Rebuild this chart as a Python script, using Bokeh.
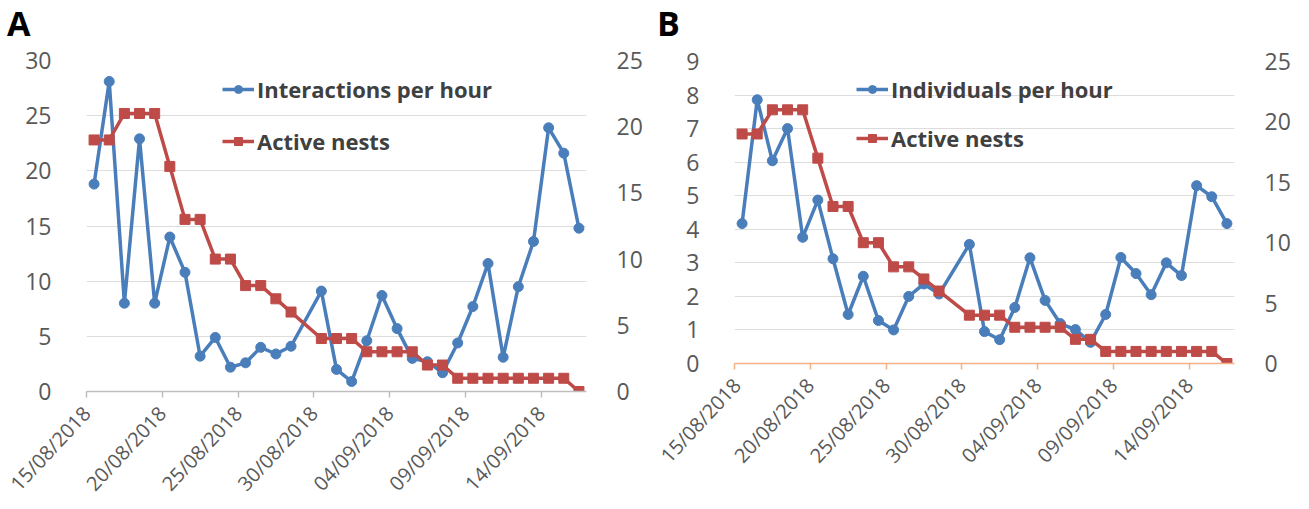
import datetime as dt
from bokeh.plotting import figure
from bokeh.models import (Range1d, LinearAxis, FixedTicker, DatetimeTickFormatter,
                          Legend, LegendItem, Div)
from bokeh.layouts import row, column
from bokeh.embed import file_html
from bokeh.resources import INLINE

dates = ["15/08/2018", "16/08/2018", "17/08/2018", "18/08/2018", "19/08/2018",
         "20/08/2018", "21/08/2018", "22/08/2018", "23/08/2018", "24/08/2018",
         "25/08/2018", "26/08/2018", "27/08/2018", "28/08/2018",
         "30/08/2018", "31/08/2018", "01/09/2018", "02/09/2018", "03/09/2018",
         "04/09/2018", "05/09/2018", "06/09/2018", "07/09/2018", "08/09/2018",
         "09/09/2018", "10/09/2018", "11/09/2018", "12/09/2018", "13/09/2018",
         "14/09/2018", "15/09/2018", "16/09/2018"]
interactions = [18.8, 28.1, 8.0, 22.9, 8.0, 14.0, 10.8, 3.2, 4.9, 2.2, 2.6, 4.0, 3.4, 4.1,
                9.1, 2.0, 0.9, 4.6, 8.7, 5.7, 3.0, 2.7, 1.7, 4.4, 7.7, 11.6, 3.1, 9.5,
                13.6, 23.9, 21.6, 14.8]
individuals = [4.17, 7.86, 6.04, 7.0, 3.76, 4.87, 3.12, 1.46, 2.6, 1.28, 1.0, 2.0, 2.37, 2.07,
               3.55, 0.95, 0.71, 1.67, 3.15, 1.88, 1.19, 1.01, 0.63, 1.46, 3.16, 2.68, 2.05,
               3.0, 2.62, 5.3, 4.97, 4.17]
active_nests = [19, 19, 21, 21, 21, 17, 13, 13, 10, 10, 8, 8, 7, 6,
                4, 4, 4, 3, 3, 3, 3, 2, 2, 1, 1, 1, 1, 1, 1, 1, 1, 0]
tick_dates = ["15/08/2018", "20/08/2018", "25/08/2018", "30/08/2018",
              "04/09/2018", "09/09/2018", "14/09/2018"]
range_start = "15/08/2018"
range_end = "17/09/2018"

BLUE = "#4A7EBB"
RED = "#BE4B48"
FONT = "Open Sans"
GRAY_TXT = "#595959"
HEAD_H = 36


def parse(d):
    return dt.datetime.strptime(d, "%d/%m/%Y")


def ms(d):
    return (d - dt.datetime(1970, 1, 1)).total_seconds() * 1000.0


xs = [parse(d) + dt.timedelta(hours=12) for d in dates]
ticks_ms = [ms(parse(d)) for d in tick_dates]
fmt = "%d/%m/%Y"


def make_head(letter, width, pad_left):
    html = ('<div style="font-family:\'Open Sans\';font-size:34px;font-weight:bold;'
            'line-height:46px;padding-left:%dpx;color:#000000;margin:0;">%s</div>'
            % (pad_left, letter))
    return Div(text=html, width=width, height=HEAD_H, margin=0)


def make_panel(series, series_label, ymax, yticks, width, height, bl, br, bt, frame_h,
               axis_color, leg_loc, leg_spacing):
    bb = height - bt - frame_h
    p = figure(width=width, height=height, x_axis_type="datetime", title=None,
               output_backend="svg", toolbar_location=None,
               x_range=Range1d(parse(range_start), parse(range_end)),
               y_range=Range1d(0, ymax),
               min_border_left=bl, min_border_right=br, min_border_top=bt,
               min_border_bottom=bb)
    p.outline_line_color = None
    p.background_fill_color = "white"
    p.extra_y_ranges = {"nests": Range1d(0, 25)}

    # x axis
    xa = p.xaxis[0]
    xa.ticker = FixedTicker(ticks=ticks_ms)
    xa.formatter = DatetimeTickFormatter(days=fmt, months=fmt, years=fmt, hours=fmt,
                                         minutes=fmt, seconds=fmt, milliseconds=fmt,
                                         minsec=fmt, hourmin=fmt, context=None)
    xa.major_label_orientation = 0.82
    xa.axis_line_color = axis_color
    xa.axis_line_width = 1.5
    xa.major_tick_line_color = axis_color
    xa.major_tick_line_width = 1.5
    xa.major_tick_out = 6
    xa.major_tick_in = 0
    xa.minor_tick_line_color = None
    xa.major_label_text_font = FONT
    xa.major_label_text_font_size = "20px"
    xa.major_label_text_color = GRAY_TXT
    xa.major_label_standoff = 12

    # left y axis
    ya = p.yaxis[0]
    ya.ticker = FixedTicker(ticks=yticks)
    ya.axis_line_color = None
    ya.major_tick_line_color = None
    ya.minor_tick_line_color = None
    ya.major_label_text_font = FONT
    ya.major_label_text_font_size = "23px"
    ya.major_label_text_color = GRAY_TXT
    ya.major_label_standoff = 29

    ra = LinearAxis(y_range_name="nests", ticker=FixedTicker(ticks=[0, 5, 10, 15, 20, 25]))
    ra.axis_line_color = None
    ra.major_tick_line_color = None
    ra.minor_tick_line_color = None
    ra.major_label_text_font = FONT
    ra.major_label_text_font_size = "23px"
    ra.major_label_text_color = GRAY_TXT
    ra.major_label_standoff = 24
    p.add_layout(ra, "right")

    p.xgrid.visible = False
    p.ygrid.ticker = FixedTicker(ticks=yticks)
    p.ygrid.grid_line_color = "#DDDDDD"
    p.ygrid.grid_line_width = 1.2

    bl_r = p.line(xs, series, line_color=BLUE, line_width=3.5)
    bs_r = p.scatter(xs, series, marker="circle", size=10, fill_color=BLUE, line_color=BLUE)
    rl_r = p.line(xs, active_nests, line_color=RED, line_width=3.5, y_range_name="nests")
    rs_r = p.scatter(xs, active_nests, marker="square", size=10, fill_color=RED,
                     line_color=RED, y_range_name="nests")

    leg = Legend(items=[LegendItem(label=series_label, renderers=[bl_r, bs_r]),
                        LegendItem(label="Active nests", renderers=[rl_r, rs_r])],
                 location=leg_loc, glyph_width=32, glyph_height=20, label_standoff=3,
                 spacing=leg_spacing, padding=0, margin=0, border_line_color=None,
                 background_fill_alpha=0, label_text_font=FONT,
                 label_text_font_style="bold", label_text_font_size="22px",
                 label_text_color="#404040")
    p.add_layout(leg, "center")
    return p


pA = make_panel(interactions, "Interactions per hour", 30, [0, 5, 10, 15, 20, 25, 30],
                654, 508 - HEAD_H, 86, 68, 60 - HEAD_H, 332, "#BFBFBF", (136, 235), 22)
pB = make_panel(individuals, "Individuals per hour", 9, list(range(10)),
                650, 508 - HEAD_H, 80, 70, 61 - HEAD_H, 302, "#F4B183", (122, 210), 19)

headA = make_head("A", 654, 7)
headB = make_head("B", 650, 3)

layout = row(column(headA, pA), column(headB, pB))
open("out.html", "w").write(file_html(layout, INLINE))
